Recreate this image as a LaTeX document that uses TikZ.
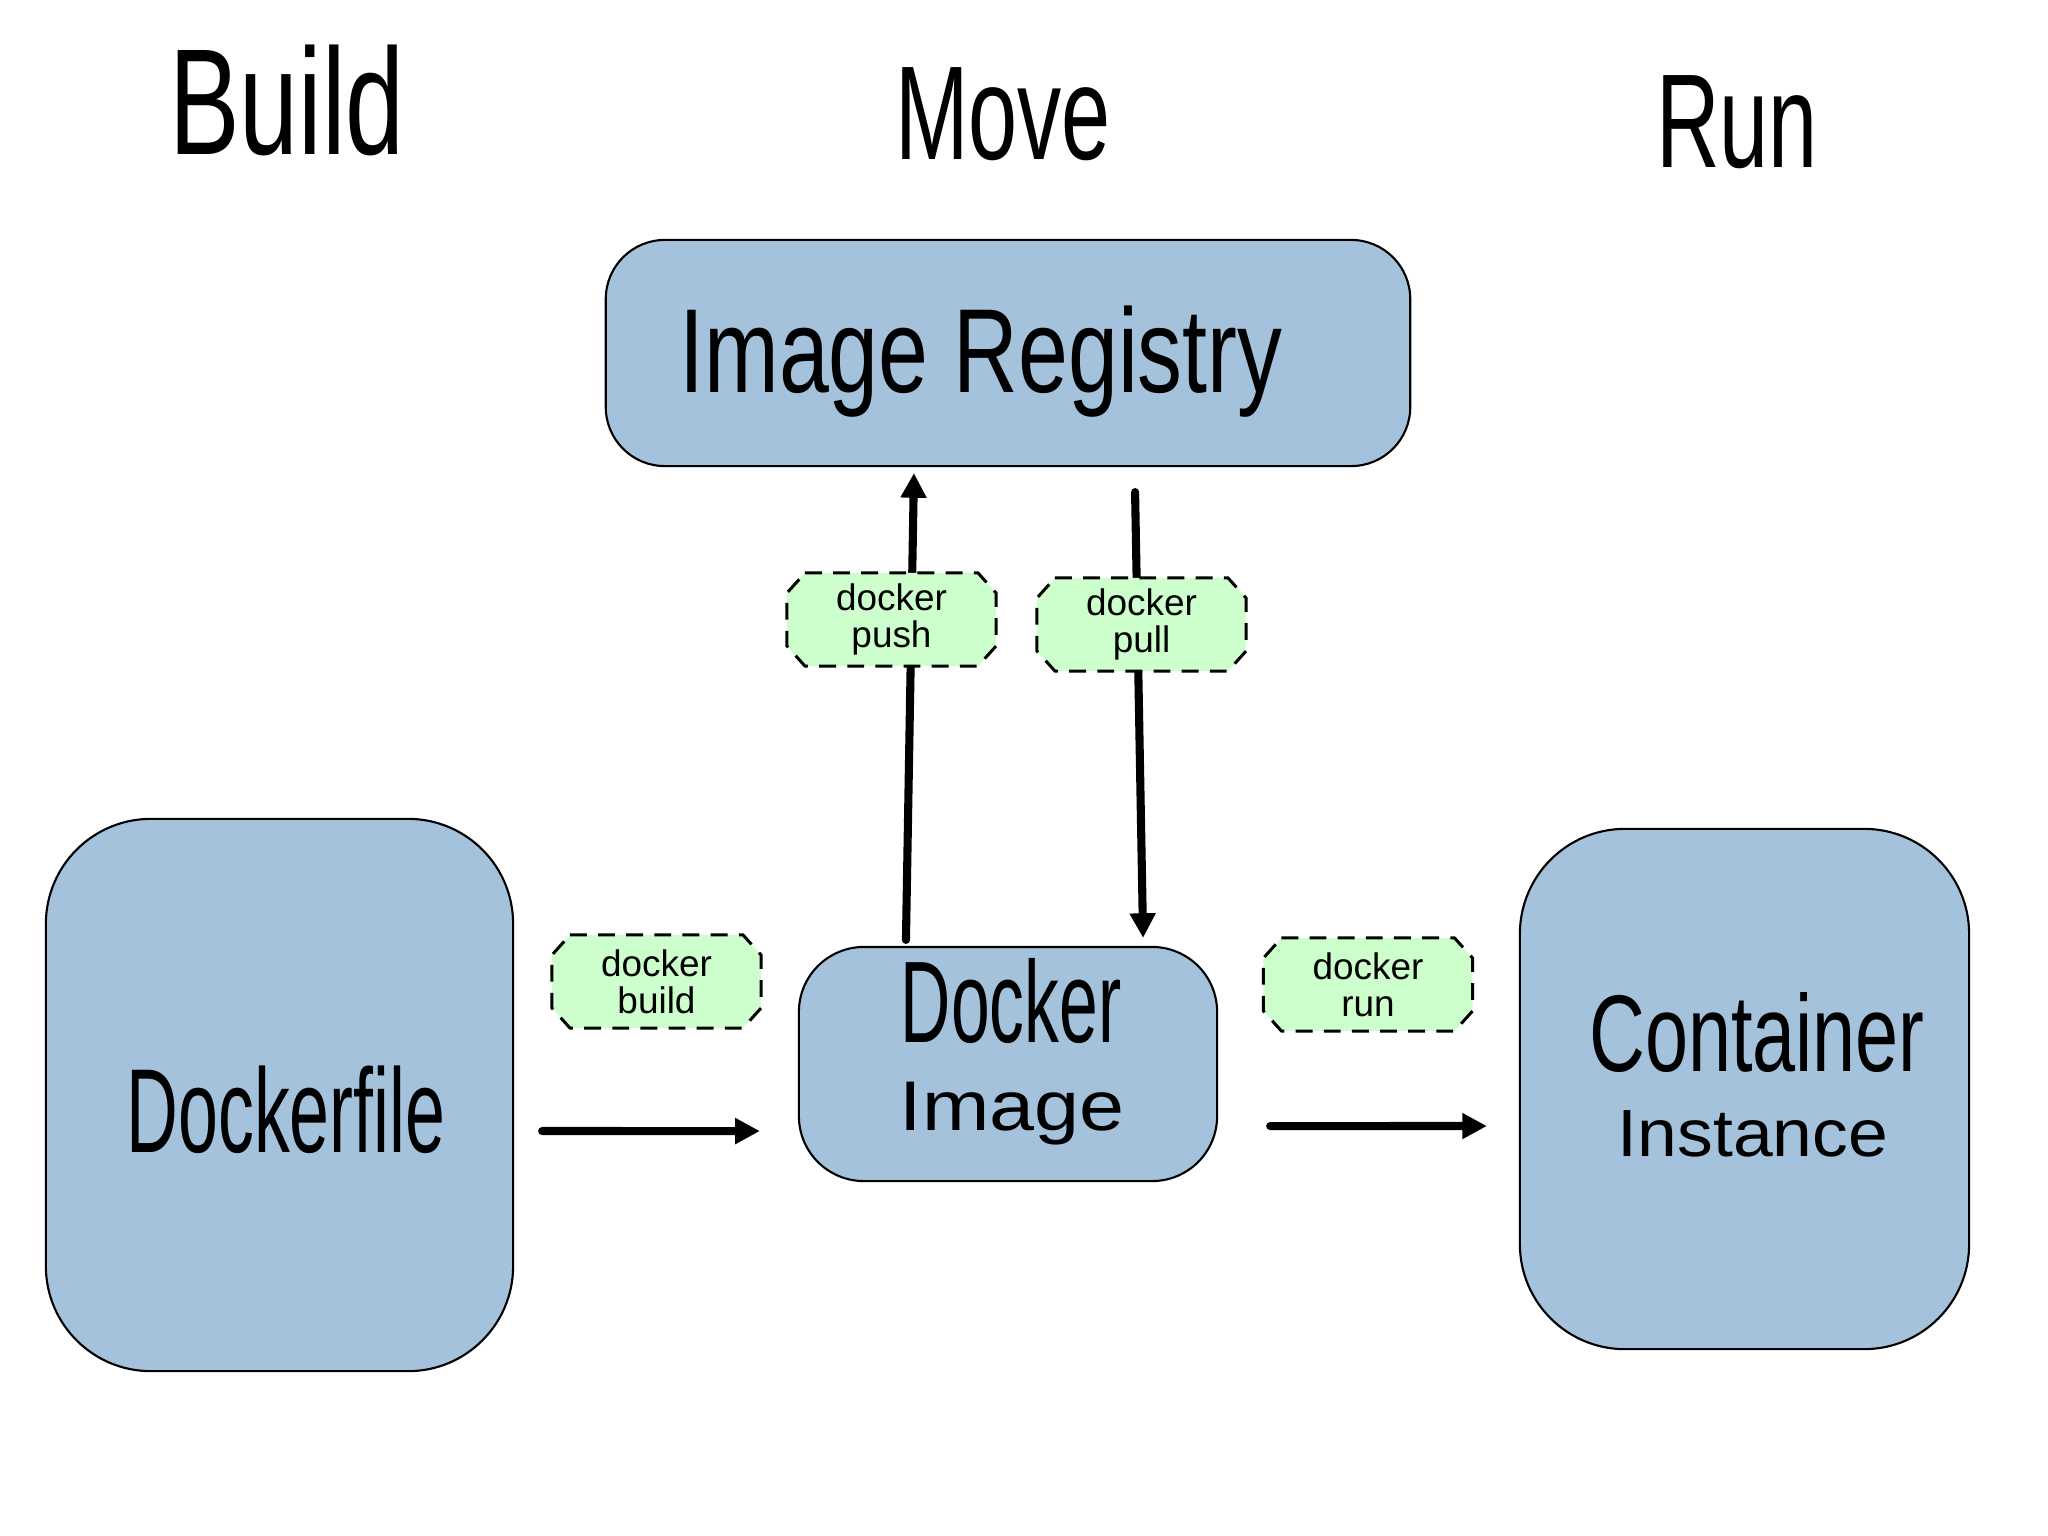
\documentclass[tikz,border=0pt]{standalone}
\usepackage{fontspec}
\usepackage{graphicx}
\setmainfont{Liberation Sans}
\usetikzlibrary{arrows.meta}
\definecolor{boxblue}{RGB}{164,194,219}
\definecolor{taggreen}{RGB}{204,255,204}
\newcommand{\hw}[3]{\fontsize{#1}{#1}\selectfont\scalebox{#2}[1]{#3}}
\newcommand{\octag}[1]{%
  \draw[tagline] ([xshift=1.8mm]#1.north west) -- ([xshift=-1.8mm]#1.north east)
    -- ([yshift=-2mm]#1.north east) -- ([yshift=2mm]#1.south east)
    -- ([xshift=-1.8mm]#1.south east) -- ([xshift=1.8mm]#1.south west)
    -- ([yshift=2mm]#1.south west) -- ([yshift=-2mm]#1.north west) -- cycle;}
\begin{document}
\begin{tikzpicture}[x=0.01cm,y=-0.01cm,
  box/.style={draw=black, line width=0.6pt, fill=boxblue, rectangle, inner sep=0pt, outer sep=0pt},
  tagframe/.style={rectangle, inner sep=0pt, outer sep=0pt, minimum width=20.9mm, minimum height=9.3mm},
  tagline/.style={draw=black, fill=taggreen, dash pattern=on 4.8pt off 3.2pt, line width=0.85pt},
  tagtext/.style={align=center, inner sep=0pt, font=\fontsize{10.5}{10.5}\selectfont},
  txt/.style={anchor=base, inner sep=0pt},
  flow/.style={line width=2.3pt, -{Triangle[length=7pt,width=7pt]}, line cap=round}]
\useasboundingbox (0,0) rectangle (2048,1536);
% headings
\node[txt] (hbuild) at (287,154) {\hw{43}{0.70}{Build}};
\node[txt] (hmove) at (1003,159) {\hw{38}{0.66}{Move}};
\node[txt] (hrun) at (1737,167) {\hw{38}{0.66}{Run}};
% boxes
\node[box, minimum width=80.4mm, minimum height=22.6mm, rounded corners=5.9mm] (reg) at (1008,353) {};
\node[box, minimum width=46.7mm, minimum height=55.2mm, rounded corners=10.5mm] (dfile) at (279.5,1095) {};
\node[box, minimum width=41.8mm, minimum height=23.4mm, rounded corners=6.5mm] (img) at (1008,1064) {};
\node[box, minimum width=44.9mm, minimum height=52mm, rounded corners=10.5mm] (cont) at (1744.5,1089) {};
% box texts
\node[txt] (tReg) at (981,392) {\hw{34}{0.75}{Image Registry}};
\node[txt] (tDfile) at (286,1152) {\hw{34}{0.60}{Dockerfile}};
\node[txt] (tDocker) at (1011,1042) {\hw{33}{0.60}{Docker}};
\node[txt] (tImage) at (1012,1130) {\hw{20}{1.15}{Image}};
\node[txt] (tCont) at (1757,1071) {\hw{31}{0.71}{Container}};
\node[txt] (tInst) at (1753,1156) {\hw{19}{1.07}{Instance}};
% connectors
\draw[flow] ([xshift=-10.2mm,yshift=0.7mm]img.north) -- ([xshift=-9.4mm,yshift=-0.7mm]reg.south);
\draw[flow] ([xshift=12.7mm,yshift=-2.6mm]reg.south) -- ([xshift=13.5mm,yshift=0.9mm]img.north);
\draw[flow] ([xshift=2.9mm,yshift=-3.6mm]dfile.east) -- ([xshift=-3.9mm,yshift=-6.7mm]img.west);
\draw[flow] ([xshift=5.3mm,yshift=-6.2mm]img.east) -- ([xshift=-3.3mm,yshift=-3.7mm]cont.west);
% tags
\node[tagframe] (pushF) at (891.5,619.5) {};
\node[tagframe] (pullF) at (1141.5,624.5) {};
\node[tagframe] (buildF) at (656.5,981.5) {};
\node[tagframe] (runF) at (1368,984.5) {};
\octag{pushF}
\octag{pullF}
\octag{buildF}
\octag{runF}
\node[tagtext] (push) at (pushF.center) {docker\\push};
\node[tagtext] (pull) at (pullF.center) {docker\\pull};
\node[tagtext] (build) at (buildF.center) {docker\\build};
\node[tagtext] (run) at (runF.center) {docker\\run};
\end{tikzpicture}
\end{document}
